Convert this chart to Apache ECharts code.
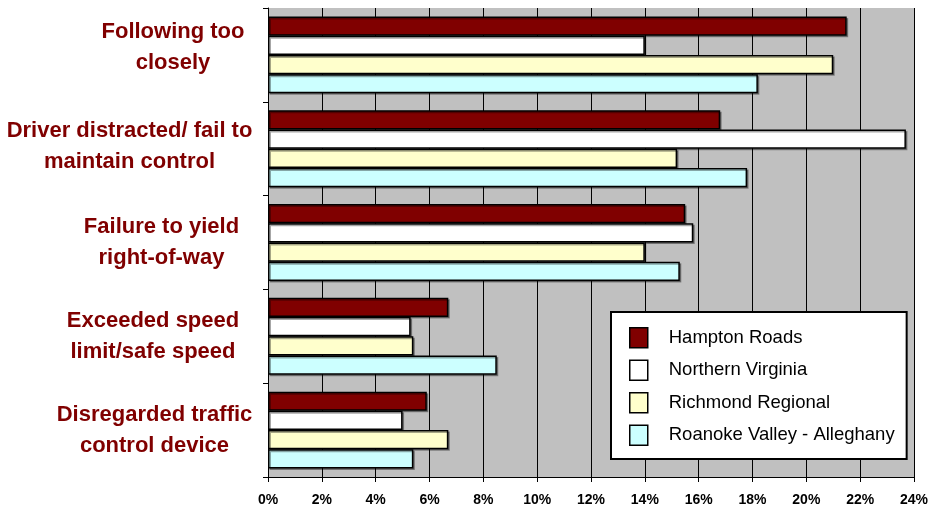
<!DOCTYPE html>
<html>
<head>
<meta charset="utf-8">
<script src="https://cdn.jsdelivr.net/npm/echarts@6/dist/echarts.min.js"></script>
<style>html,body{margin:0;padding:0;background:#fff;}#c{width:931px;height:510px;}</style>
</head>
<body>
<div id="c"></div>
<script>
const categories = [
  "Following too\nclosely",
  "Driver distracted/ fail to\nmaintain control",
  "Failure to yield\nright-of-way",
  "Exceeded speed\nlimit/safe speed",
  "Disregarded traffic\ncontrol device"
];
const seriesNames = ["Hampton Roads", "Northern Virginia", "Richmond Regional", "Roanoke Valley - Alleghany"];
const hamptonRoads = [21.5, 16.8, 15.5, 6.7, 5.9];
const northernVirginia = [14.0, 23.7, 15.8, 5.3, 5.0];
const richmondRegional = [21.0, 15.2, 14.0, 5.4, 6.7];
const roanokeValley = [18.2, 17.8, 15.3, 8.5, 5.4];
const xTicks = [0, 2, 4, 6, 8, 10, 12, 14, 16, 18, 20, 22, 24];

const colors = ["#800000", "#ffffff", "#ffffcc", "#ccffff"];
const FF = "'Liberation Sans', Arial, sans-serif";
const LBL_SIZE = 22;
const cv = document.createElement('canvas').getContext('2d');
cv.font = "bold " + LBL_SIZE + "px " + FF;
// label layout style: extra right inset and upward lift per category
const labelInset = [8, 0, 13, 13, 0];
const labelLift = [7, 2, 0, 0, 0];
const rich = {};
categories.forEach((c, i) => {
  const w = Math.max(...c.split('\n').map(l => cv.measureText(l).width));
  rich['c' + i] = {
    width: Math.ceil(w) + 1, align: 'center', fontSize: LBL_SIZE, fontWeight: 'bold',
    fontFamily: FF, color: '#800000', lineHeight: 31,
    padding: [0, labelInset[i], labelLift[i] * 2, 0]
  };
});

const data = [hamptonRoads, northernVirginia, richmondRegional, roanokeValley];
const chart = echarts.init(document.getElementById('c'), null, {renderer: 'canvas'});
chart.setOption({
  animation: false,
  backgroundColor: '#ffffff',
  grid: {left: 268, right: 14, top: 8, bottom: 33, show: true, backgroundColor: '#c0c0c0', borderWidth: 0},
  xAxis: {
    type: 'value', min: 0, max: 24, interval: 2,
    axisLine: {show: true, lineStyle: {color: '#000', width: 1}},
    axisTick: {show: true, length: 5, lineStyle: {color: '#000'}},
    splitLine: {show: true, lineStyle: {color: '#000', width: 1}},
    axisLabel: {
      margin: 16, fontSize: 14, fontWeight: 'bold', color: '#000', fontFamily: FF,
      formatter: v => (xTicks.indexOf(v) >= 0 ? v + '%' : '')
    }
  },
  yAxis: {
    type: 'category', data: categories, inverse: true,
    axisLine: {show: true, lineStyle: {color: '#000', width: 1}},
    axisTick: {show: true, length: 5, inside: false, lineStyle: {color: '#000'}},
    splitLine: {show: false},
    axisLabel: {
      margin: 15,
      formatter: (v, idx) => v.split('\n').map(l => '{c' + idx + '|' + l + '}').join('\n'),
      rich: rich
    }
  },
  legend: {
    orient: 'vertical', left: 611, top: 312,
    backgroundColor: '#ffffff', borderColor: '#000', borderWidth: 2,
    padding: [15, 12, 13, 18],
    itemWidth: 18, itemHeight: 20, itemGap: 11,
    icon: 'rect',
    itemStyle: {borderColor: '#000', borderWidth: 1.5, shadowBlur: 0, shadowOffsetX: 0, shadowOffsetY: 0, shadowColor: 'transparent'},
    textStyle: {fontSize: 18.5, lineHeight: 20, color: '#000', fontFamily: FF, padding: [0, 0, 0, 16]},
    data: seriesNames
  },
  series: seriesNames.map((n, i) => ({
    name: n, type: 'bar', data: data[i],
    barGap: '0%', barCategoryGap: '18%',
    itemStyle: {color: colors[i], borderColor: '#000', borderWidth: 1.5,
      shadowColor: 'rgba(0,0,0,0.35)', shadowOffsetX: 1.5, shadowOffsetY: 1.5, shadowBlur: 0}
  }))
});
</script>
</body>
</html>
